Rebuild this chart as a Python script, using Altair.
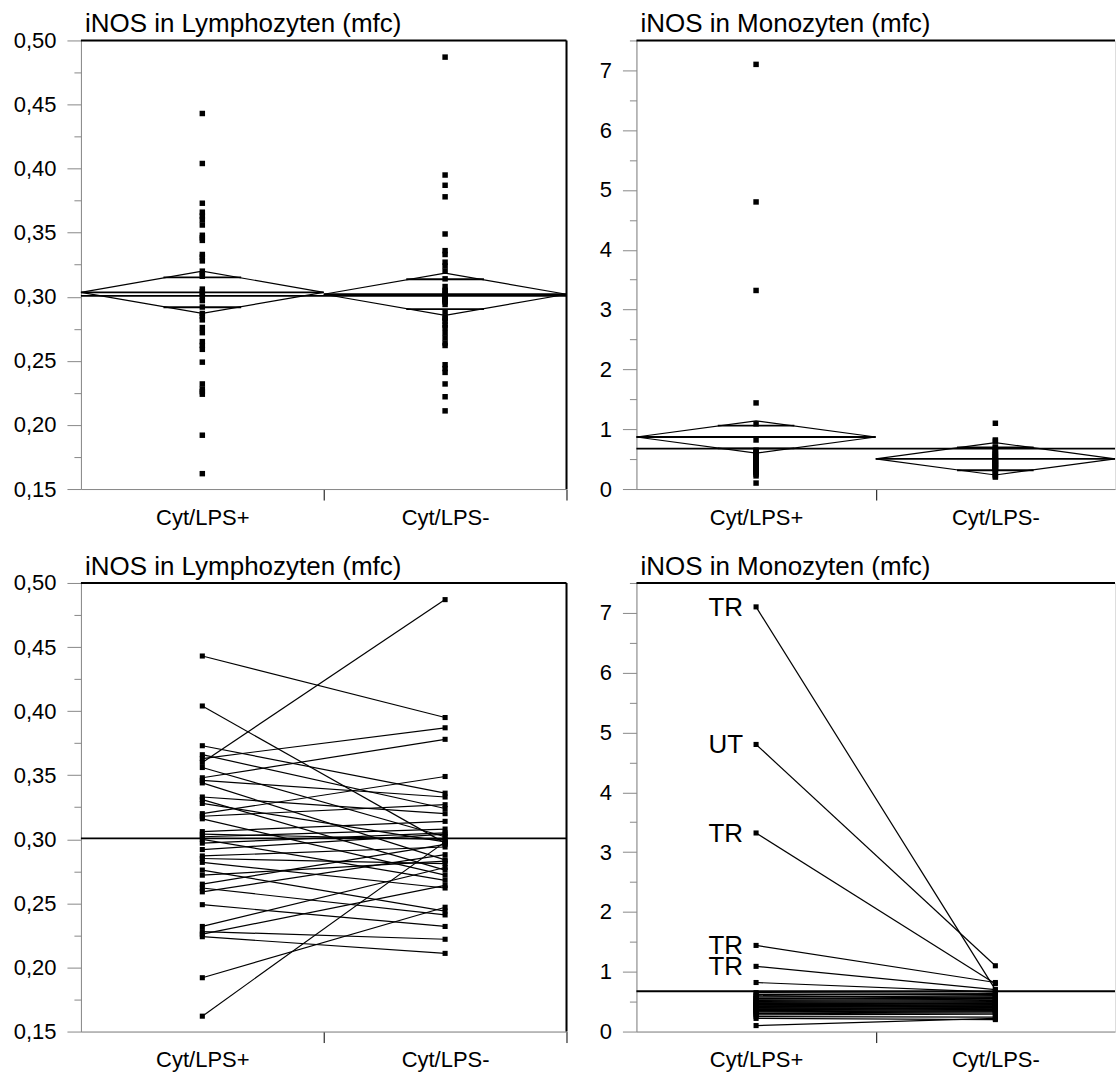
import altair as alt
import pandas as pd

FONT = "Liberation Sans"

# ---------------- data ----------------
groups = ["Cyt/LPS+", "Cyt/LPS-"]
group_pos = [0.5, 1.5]
titles = ["iNOS in Lymphozyten (mfc)", "iNOS in Monozyten (mfc)"]

# paired values, index = subject
lymph_plus = [0.443, 0.404, 0.373, 0.366, 0.363, 0.360, 0.356, 0.348, 0.346, 0.344,
              0.333, 0.331, 0.328, 0.320, 0.318, 0.316, 0.306, 0.304, 0.302, 0.300,
              0.297, 0.292, 0.287, 0.285, 0.282, 0.276, 0.272, 0.265, 0.262, 0.259,
              0.249, 0.232, 0.228, 0.226, 0.224, 0.192, 0.162]
lymph_minus = [0.395, 0.297, 0.336, 0.324, 0.387, 0.487, 0.302, 0.378, 0.333, 0.284,
               0.320, 0.276, 0.298, 0.349, 0.327, 0.272, 0.314, 0.300, 0.308, 0.268,
               0.305, 0.304, 0.294, 0.281, 0.262, 0.244, 0.283, 0.296, 0.241, 0.288,
               0.232, 0.278, 0.222, 0.264, 0.211, 0.247, 0.298]

mono_plus = [7.10, 4.80, 3.32, 1.44, 1.09, 0.82, 0.65, 0.62, 0.60, 0.58,
             0.56, 0.55, 0.53, 0.52, 0.50, 0.49, 0.48, 0.47, 0.46, 0.45,
             0.44, 0.43, 0.42, 0.41, 0.40, 0.39, 0.38, 0.37, 0.35, 0.34,
             0.33, 0.31, 0.30, 0.28, 0.25, 0.22, 0.10]
mono_minus = [0.70, 1.10, 0.80, 0.82, 0.70, 0.66, 0.64, 0.62, 0.57, 0.60,
              0.55, 0.58, 0.52, 0.54, 0.49, 0.50, 0.46, 0.48, 0.44, 0.47,
              0.43, 0.45, 0.41, 0.42, 0.38, 0.40, 0.39, 0.36, 0.37, 0.34,
              0.35, 0.33, 0.31, 0.29, 0.24, 0.20, 0.22]
mono_labels = ["TR", "UT", "TR", "TR", "TR"]  # labels of the first subjects (Cyt/LPS+)

# means diamonds (group mean, 95% CI half width)
lymph_diamond_mean = [0.3035, 0.302]
lymph_diamond_ci = [0.0165, 0.0165]
mono_diamond_mean = [0.87, 0.505]
mono_diamond_ci = [0.27, 0.27]

lymph_domain = [0.15, 0.50]
lymph_ticks = [0.15, 0.175, 0.2, 0.225, 0.25, 0.275, 0.3, 0.325, 0.35, 0.375,
               0.4, 0.425, 0.45, 0.475, 0.5]
mono_domain = [0, 7.5]
mono_ticks = [0, 0.5, 1, 1.5, 2, 2.5, 3, 3.5, 4, 4.5, 5, 5.5, 6, 6.5, 7, 7.5]

LEFT_W, RIGHT_W, H = 486, 479, 449
OVERLAP_HALF = 0.16


# ---------------- helpers ----------------
def long_df(plus, minus, labels=()):
    rows = []
    for i, (a, b) in enumerate(zip(plus, minus)):
        rows.append(dict(subject=i, pos=group_pos[0], value=a,
                         label=labels[i] if i < len(labels) else ""))
        rows.append(dict(subject=i, pos=group_pos[1], value=b, label=""))
    return pd.DataFrame(rows)


def diamond_df(means, cis):
    rows = []
    for g, (m, c) in enumerate(zip(means, cis)):
        pts = [(g, m), (g + 0.5, m + c), (g + 1, m), (g + 0.5, m - c), (g, m)]
        for k, (px, py) in enumerate(pts):
            rows.append(dict(grp=g, k=k, pos=px, value=py))
    return pd.DataFrame(rows)


def mean_lines_df(means, cis):
    rows = []
    for g, (m, c) in enumerate(zip(means, cis)):
        rows.append(dict(pos=g, pos2=g + 1, value=m))
        for s in (1, -1):
            rows.append(dict(pos=g + 0.5 - OVERLAP_HALF, pos2=g + 0.5 + OVERLAP_HALF,
                             value=m + s * c / 2 ** 0.5))
    return pd.DataFrame(rows)


def x_axis(with_end_tick):
    vals = [0.5, 1, 1.5, 2] if with_end_tick else [0.5, 1, 1.5]
    return alt.Axis(
        values=vals,
        labelExpr=f"datum.value == 0.5 ? '{groups[0]}' : datum.value == 1.5 ? '{groups[1]}' : ''",
        tickColor={"condition": {"test": "abs(datum.value - round(datum.value)) > 0.1",
                                 "value": "transparent"}, "value": "black"},
        tickSize=11, labelPadding=7, labelOverlap=False, labelFlush=False,
        labelFontSize=22, title=None, grid=False,
    )


def y_axis(ticks, minor_test, fmt):
    return alt.Axis(
        values=ticks,
        tickSize={"condition": {"test": minor_test, "value": 7}, "value": 14},
        labelExpr=f"{minor_test} ? '' : replace(format(datum.value, '{fmt}'), '.', ',')",
        labelPadding=11, labelOverlap=False, labelFlush=False,
        labelFontSize=22, title=None, grid=False,
    )


def panel(kind, left, paired):
    if kind == "lymph":
        plus, minus, labels = lymph_plus, lymph_minus, ()
        means, cis = lymph_diamond_mean, lymph_diamond_ci
        domain, ticks = lymph_domain, lymph_ticks
        minor = "abs(datum.value * 20 - round(datum.value * 20)) > 0.1"
        fmt = ".2f"
        title = titles[0]
    else:
        plus, minus, labels = mono_plus, mono_minus, mono_labels
        means, cis = mono_diamond_mean, mono_diamond_ci
        domain, ticks = mono_domain, mono_ticks
        minor = "abs(datum.value - round(datum.value)) > 0.1"
        fmt = "d"
        title = titles[1]

    xs = alt.Scale(domain=[0, 2], nice=False, zero=False)
    ys = alt.Scale(domain=domain, nice=False, zero=False)
    xa = x_axis(left)
    ya = y_axis(ticks, minor, fmt)

    def X(f="pos"):
        return alt.X(f"{f}:Q", scale=xs, axis=xa, title=None)

    def Y(f="value:Q"):
        return alt.Y(f, scale=ys, axis=ya, title=None)

    df = long_df(plus, minus, labels)
    layers = []

    # frame: top border (and right border for left panels)
    top = alt.Chart(pd.DataFrame({"value": [domain[1]]})).mark_rule(
        color="black", strokeWidth=2).encode(y=Y())
    layers.append(top)
    if left:
        right = alt.Chart(pd.DataFrame({"pos": [2]})).mark_rule(
            color="black", strokeWidth=2).encode(x=X())
        layers.append(right)

    # grand mean
    grand = alt.Chart(df).mark_rule(color="black", strokeWidth=1.8).encode(
        y=Y("mean(value):Q"))
    layers.append(grand)

    if paired:
        lines = alt.Chart(df).mark_line(color="black", strokeWidth=1.2).encode(
            x=X(), y=Y(), detail="subject:N")
        layers.append(lines)
        pts = alt.Chart(df).mark_square(size=26, color="black", opacity=1).encode(
            x=X(), y=Y())
        layers.append(pts)
        if labels:
            txt = alt.Chart(df[df["label"] != ""]).mark_text(
                align="right", baseline="middle", dx=-13, dy=1, fontSize=26,
                font=FONT, color="black").encode(x=X(), y=Y(), text="label:N")
            layers.append(txt)
    else:
        dd = diamond_df(means, cis)
        dia = alt.Chart(dd).mark_line(color="black", strokeWidth=1.2).encode(
            x=X(), y=Y(), detail="grp:N", order="k:Q")
        layers.append(dia)
        ml = mean_lines_df(means, cis)
        mlines = alt.Chart(ml).mark_rule(color="black", strokeWidth=1.8).encode(
            x=X(), x2="pos2:Q", y=Y())
        layers.append(mlines)
        pts = alt.Chart(df).mark_square(size=30, color="black", opacity=1).encode(
            x=X(), y=Y())
        layers.append(pts)

    # panel title, written just above the plot frame
    ttl = alt.Chart(pd.DataFrame({"t": [title]})).mark_text(
        align="left", baseline="alphabetic", fontSize=26, font=FONT, color="black"
    ).encode(x=alt.value(4), y=alt.value(-8), text="t:N")
    layers.append(ttl)

    return alt.layer(*layers).properties(
        width=LEFT_W if left else RIGHT_W,
        height=H,
    )


chart = alt.concat(
    panel("lymph", True, False),
    panel("mono", False, False),
    panel("lymph", True, True),
    panel("mono", False, True),
    columns=2,
    spacing={"row": 94, "column": 70},
    bounds="flush",
).properties(
    padding={"left": 12, "top": 10, "right": 0, "bottom": 0},
).configure_view(
    stroke=None
).configure_axis(
    domainColor="black", domainWidth=2, tickColor="black", tickWidth=2,
    labelColor="black", labelFont=FONT,
).configure(background="white")

chart.save("out.html", embed_options={"renderer": "svg", "actions": False})
